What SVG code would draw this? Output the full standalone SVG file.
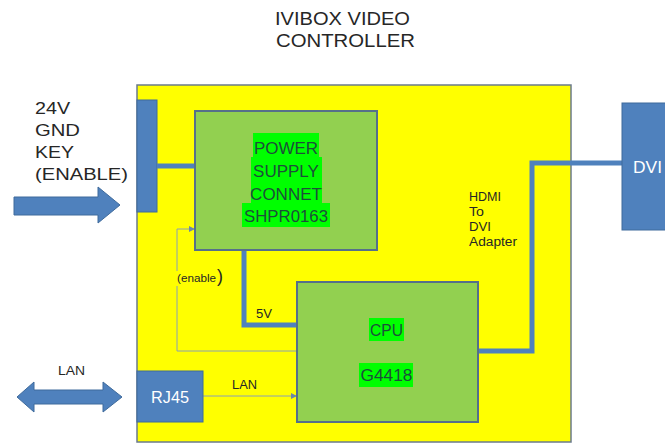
<svg xmlns="http://www.w3.org/2000/svg" width="665" height="444" viewBox="0 0 665 444">
<defs>
<style>
text{font-family:"Liberation Sans",Arial,sans-serif;}
.blk{fill:#262626;}
.blue{fill:#4F81BD;stroke:#3f6b9c;stroke-width:1;}
.green{fill:#92D050;stroke:#55708a;stroke-width:2;}
.hl{fill:#00FF00;}
.gt{fill:#1d4f3a;font-size:17px;text-anchor:middle;}
.wire{fill:none;stroke:#4F81BD;stroke-width:5;}
.thin{fill:none;stroke:#8aa0b4;stroke-width:1;}
.wt{fill:#ffffff;}
</style>
<marker id="ah" viewBox="0 0 10 10" refX="10" refY="5" markerWidth="6" markerHeight="6" orient="auto" markerUnits="userSpaceOnUse">
<path d="M0,0 L10,5 L0,10 z" fill="#6a88a8"/>
</marker>
</defs>
<rect width="665" height="444" fill="#ffffff"/>

<g id="title">
<text x="275" y="25" class="blk" font-size="18" textLength="135" lengthAdjust="spacingAndGlyphs">IVIBOX VIDEO</text>
<text x="276" y="47" class="blk" font-size="18" textLength="139" lengthAdjust="spacingAndGlyphs">CONTROLLER</text>
</g>

<g id="controller-board">
<rect x="137" y="85" width="434" height="357" fill="#FFFF00" stroke="#6b7b8c" stroke-width="1.5"/>
</g>

<g id="power-input-labels">
<text x="35" y="114" class="blk" font-size="17" textLength="35" lengthAdjust="spacingAndGlyphs">24V</text>
<text x="35" y="136" class="blk" font-size="17" textLength="45" lengthAdjust="spacingAndGlyphs">GND</text>
<text x="35" y="158" class="blk" font-size="17" textLength="39" lengthAdjust="spacingAndGlyphs">KEY</text>
<text x="35" y="180" class="blk" font-size="17" textLength="93" lengthAdjust="spacingAndGlyphs">(ENABLE)</text>
</g>

<g id="power-arrow">
<path d="M14,197 H98 V187 L120,205 L98,223 V215 H14 Z" class="blue"/>
</g>

<g id="power-connector">
<rect x="137" y="100" width="20" height="112" class="blue"/>
</g>

<g id="lan-arrow">
<text x="58" y="375" class="blk" font-size="12" textLength="27" lengthAdjust="spacingAndGlyphs">LAN</text>
<path d="M17,397 L34,382 V390 H103 V382 L122,397 L103,412 V404 H34 V412 Z" class="blue"/>
</g>

<g id="connectors">
<path d="M157,166 H195" class="wire"/>
<path d="M244,250 V325 H297" class="wire"/>
<path d="M478,351 H532 V163 H622" class="wire"/>
<path d="M297,351 H177 V229 H195" class="thin" marker-end="url(#ah)"/>
<path d="M203,396 H297" class="thin" marker-end="url(#ah)"/>
<text x="256" y="318" class="blk" font-size="12" textLength="16" lengthAdjust="spacingAndGlyphs">5V</text>
<rect x="175" y="271" width="50" height="15" fill="#FFFF00"/>
<text x="177" y="282" class="blk" font-size="11"><tspan textLength="39" lengthAdjust="spacingAndGlyphs">(enable</tspan><tspan font-size="18" dx="1">)</tspan></text>
<text x="232" y="389" class="blk" font-size="12" textLength="25" lengthAdjust="spacingAndGlyphs">LAN</text>
<text x="469" y="201" class="blk" font-size="12" textLength="32" lengthAdjust="spacingAndGlyphs">HDMI</text>
<text x="469" y="216" class="blk" font-size="12" textLength="15" lengthAdjust="spacingAndGlyphs">To</text>
<text x="469" y="231" class="blk" font-size="12" textLength="22" lengthAdjust="spacingAndGlyphs">DVI</text>
<text x="469" y="246" class="blk" font-size="12" textLength="48" lengthAdjust="spacingAndGlyphs">Adapter</text>
</g>

<g id="power-supply">
<rect x="195" y="111" width="182" height="139" class="green"/>
<rect x="253" y="133" width="66" height="24" class="hl"/>
<rect x="251" y="157" width="71" height="23" class="hl"/>
<rect x="251" y="180" width="71" height="23" class="hl"/>
<rect x="242" y="203" width="88" height="24" class="hl"/>
<text x="286" y="154" class="gt">POWER</text>
<text x="286" y="177" class="gt">SUPPLY</text>
<text x="286" y="200" class="gt">CONNET</text>
<text x="286" y="222" class="gt" textLength="84" lengthAdjust="spacingAndGlyphs">SHPR0163</text>
</g>

<g id="cpu">
<rect x="297" y="282" width="181" height="140" class="green"/>
<rect x="369" y="318" width="35" height="23" class="hl"/>
<rect x="359" y="363" width="54" height="24" class="hl"/>
<text x="386.5" y="336" class="gt" font-size="16" textLength="33" lengthAdjust="spacingAndGlyphs">CPU</text>
<text x="386.5" y="381" class="gt" font-size="16" textLength="52" lengthAdjust="spacingAndGlyphs">G4418</text>
</g>

<g id="rj45">
<rect x="137" y="371" width="66" height="51" class="blue"/>
<text x="170" y="403" class="wt" font-size="16" text-anchor="middle" textLength="38" lengthAdjust="spacingAndGlyphs">RJ45</text>
</g>

<g id="dvi">
<rect x="622" y="103" width="46" height="127" class="blue"/>
<text x="633" y="173" class="wt" font-size="16" textLength="29" lengthAdjust="spacingAndGlyphs">DVI</text>
</g>
</svg>
